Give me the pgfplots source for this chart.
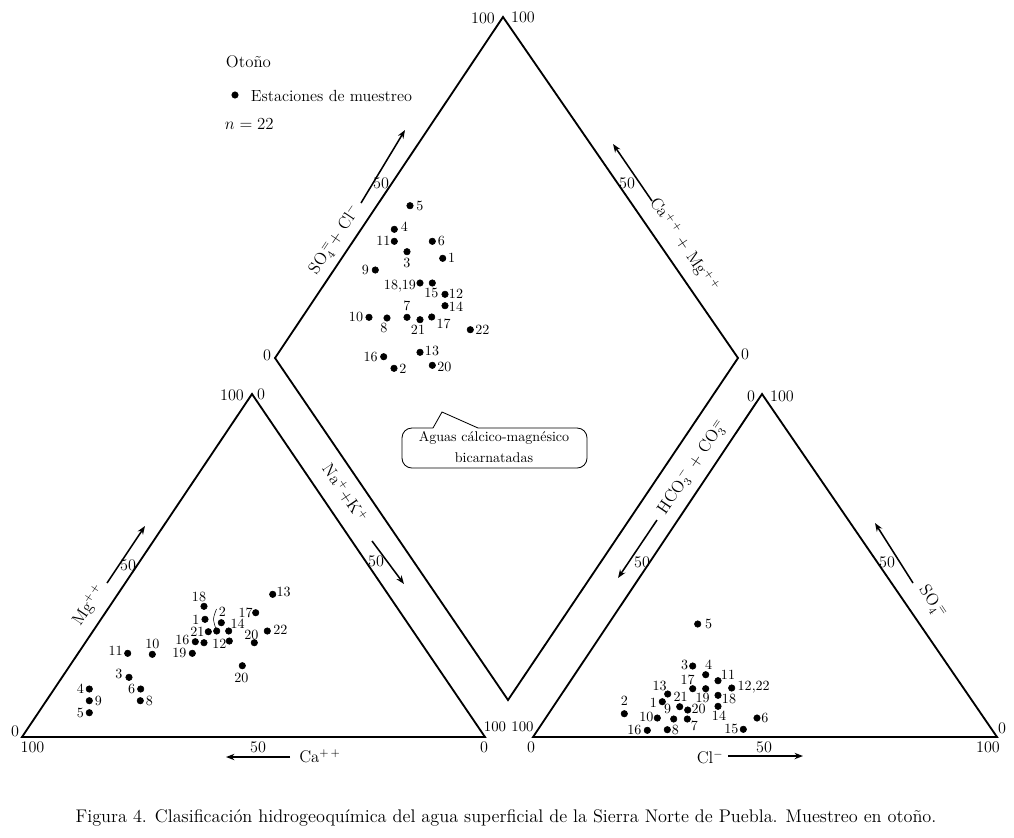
\documentclass[border=0pt]{standalone}
\usepackage{pgfplots}
\pgfplotsset{compat=1.18}
\usepackage{pgfplotstable}
\usetikzlibrary{arrows.meta}

\pgfplotstableread{
x y lab dx uy
410 205.7 5 10 0
394.3 229.3 4 10 3
394.3 241.3 11 -11 0
432.3 241.3 6 9 0
407 251.7 3 0 -11
442.7 258.3 1 9 0
375.3 270 9 -10 0
420 283 18,19 -20 -3
432.3 283 15 -1 -10
445 294.3 12 11 0
445 305.7 14 11 -1
369 317.3 10 -13 0
387 318 8 -3 -10
407 317.3 7 0 11
420 319.7 21 -2 -10
431.7 317 17 12 -7
470.3 329.7 22 12 0
383.7 356.7 16 -13 0
420 352.3 13 12 1
394 368.3 2 9 -1
432.3 365.3 20 12 -2
}\diamondpts

\pgfplotstableread{
x y lab dx uy
204 606.3 18 -5 9
205 619.3 1 -9 0
221.3 622.7 2 1 11
208.3 631.7 21 -11 0
228.7 631 14 9 7
195.3 641.7 16 -13 2
229.3 641 12 -10 -3
192.3 653.3 19 -13 0
127.7 653.3 11 -12 3
152.3 654.3 10 0 10
129 677.3 3 -10 3
140.7 689 6 -9 0
140.3 700.7 8 9 0
89.3 689 4 -9 0
89.3 700.7 9 9 0
89.3 712.7 5 -9 0
272.7 594.3 13 11 2
255.7 612.7 17 -10 0
267.3 631 22 13 1
254.3 642.7 20 -3 8
242.3 665.7 20 -1 -12
}\leftpts

\pgfplotstableread{
x y
216.7 631
204 642.7
}\leftextra

\pgfplotstableread{
x y lab dx uy
697.7 624 5 11 0
692.7 666 3 -8 1
705.7 674.7 4 3 10
718 680.7 11 10 6
692.7 688.7 17 -5 9
705.7 688.7 19 -3 -9
731.7 688 12,22 22 1
718 695.3 18 11 -4
667.7 694 13 -8 8
662.3 701.7 1 -9 -1
679.7 706.7 21 1 10
687.7 710 20 11 1
718 706.3 14 1 -9
673.7 719 9 -6 10
657.3 718 10 -11 1
687.3 719 7 7 -7
757 718 6 8 0
647.3 730.3 16 -13 0
667.3 729.7 8 8 0
743.3 729.3 15 -12 0
624.3 713.7 2 0 13
}\rightpts

\begin{document}
\begin{tikzpicture}
\begin{axis}[
  x=0.25mm, y=0.25mm, y dir=reverse,
  xmin=0, xmax=1014, ymin=0, ymax=837,
  hide axis, clip=false,
  frame/.style={black, line width=1.3pt, line join=miter},
  arr/.style={black, line width=1.1pt, -{Stealth[length=6pt,width=4.5pt]}},
  pts/.style={only marks, mark=*, mark size=2.3pt, mark options={fill=black, draw=black},
    visualization depends on={\thisrow{dx} \as \dx},
    visualization depends on={\thisrow{uy} \as \uy},
    nodes near coords, point meta=explicit symbolic,
    nodes near coords style={anchor=center, inner sep=0pt, xshift=\dx*0.25mm, yshift=\uy*0.25mm,
      font=\fontsize{10}{11}\selectfont, text=black}},
]
\path (axis cs:0,0) rectangle (axis cs:1014,837);

% frames
\addplot[frame] coordinates {(22,737) (252,394) (485,737)} -- cycle;
\addplot[frame] coordinates {(533,737) (762,394) (997,737)} -- cycle;
\addplot[frame] coordinates {(275,358) (503,17) (738,358) (508,700)} -- cycle;

% arrows
\addplot[arr] coordinates {(107,583) (145,526)};
\addplot[arr] coordinates {(290,757) (226,757)};
\addplot[arr] coordinates {(372,541) (404,584)};
\addplot[arr] coordinates {(728,756) (803,756)};
\addplot[arr] coordinates {(913,583) (875,523)};
\addplot[arr] coordinates {(657,520) (618,578)};
\addplot[arr] coordinates {(361,203) (405,130)};
\addplot[arr] coordinates {(652,201) (613,144)};

% data
\addplot[pts] table[x=x, y=y, meta=lab] {\diamondpts};
\addplot[pts] table[x=x, y=y, meta=lab] {\leftpts};
\addplot[only marks, mark=*, mark size=2.3pt, mark options={fill=black}] table[x=x,y=y] {\leftextra};
\addplot[pts] table[x=x, y=y, meta=lab] {\rightpts};
\addplot[black, thin, smooth] coordinates {(216.5,609) (213.5,619) (216,629)};

% legend
\addplot[only marks, mark=*, mark size=2.3pt, mark options={fill=black}] coordinates {(235,95)};
\node[anchor=west, font=\fontsize{12}{14}\selectfont] at (axis cs:221,62) {Otoño};
\node[anchor=west, font=\fontsize{11.5}{14}\selectfont] at (axis cs:246,96) {Estaciones de muestreo};
\node[anchor=west, font=\fontsize{11.5}{14}\selectfont] at (axis cs:220,124) {$n=22$};

% callout
\addplot[black, line width=0.6pt, rounded corners=7pt] coordinates {(478,428) (587,428) (587,468) (402,468) (402,428) (433,428)};
\addplot[black, line width=0.6pt] coordinates {(433,428) (442,412) (478,428)};
\node[align=center, font=\fontsize{10}{15}\selectfont] at (axis cs:494,447) {Aguas cálcico-magnésico\\bicarnatadas};

% tick labels
\begin{scope}[every node/.style={font=\fontsize{11.5}{13}\selectfont, inner sep=0pt}]
\node at (axis cs:32.5,747) {100};
\node at (axis cs:15,731) {0};
\node at (axis cs:128,565) {50};
\node at (axis cs:232,395) {100};
\node at (axis cs:261,394) {0};
\node at (axis cs:258,747) {50};
\node at (axis cs:484,747) {0};
\node[font=\fontsize{10.5}{12}\selectfont] at (axis cs:495,727) {100};
\node at (axis cs:376,561) {50};
\node at (axis cs:531,747) {0};
\node[font=\fontsize{10.5}{12}\selectfont] at (axis cs:522.5,727) {100};
\node at (axis cs:642,562) {50};
\node at (axis cs:751,396) {0};
\node at (axis cs:782,396) {100};
\node at (axis cs:887,562) {50};
\node at (axis cs:1002,728) {0};
\node at (axis cs:988,747) {100};
\node at (axis cs:764,747) {50};
\node at (axis cs:483,18) {100};
\node at (axis cs:523,17) {100};
\node at (axis cs:381,183) {50};
\node at (axis cs:627,183) {50};
\node at (axis cs:267,355) {0};
\node at (axis cs:745,354) {0};
\end{scope}

% axis titles
\begin{scope}[every node/.style={font=\fontsize{12}{14}\selectfont, inner sep=0pt}]
\node[rotate=56] at (axis cs:335,240) {SO$_4^{\,=}$+ Cl$^-$};
\node[rotate=-56] at (axis cs:684,245) {Ca$^{+\,+}$ + Mg$^{+\,+}$};
\node[rotate=-56] at (axis cs:345,493) {Na$^{+}$+K$^+$};
\node[rotate=56] at (axis cs:692,467) {HCO$_3^{\,-}$ + CO$_3^{\,=}$};
\node[rotate=-56] at (axis cs:932,602) {SO$_4^{\;=}$};
\node[rotate=56] at (axis cs:89,605) {Mg$^{+\,+}$};
\node at (axis cs:320,756) {Ca$^{+\,+}$};
\node at (axis cs:710,757) {Cl$^-$};
\end{scope}

% caption
\node[font=\fontsize{13}{15}\selectfont] at (axis cs:506,818) {Figura 4. Clasificación hidrogeoquímica del agua superficial de la Sierra Norte de Puebla. Muestreo en otoño.};
\end{axis}
\end{tikzpicture}
\end{document}
